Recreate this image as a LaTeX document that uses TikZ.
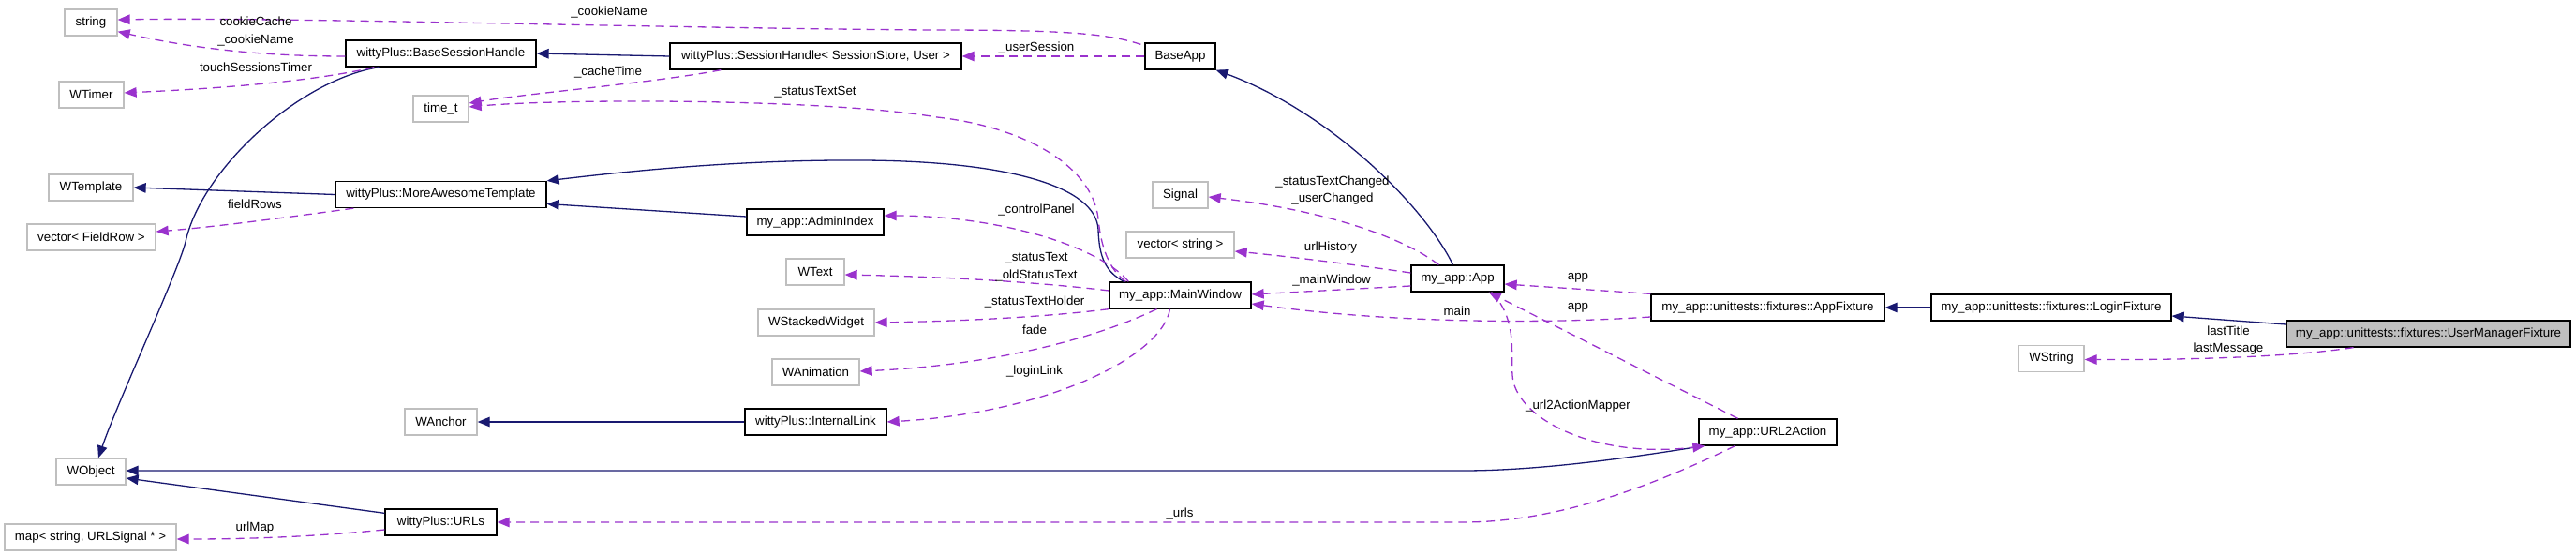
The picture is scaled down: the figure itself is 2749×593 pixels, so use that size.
\documentclass[tikz,border=0pt]{standalone}
\usepackage{fontspec}
\setmainfont{Liberation Sans}
\usetikzlibrary{arrows.meta,calc}
\definecolor{inhc}{HTML}{191970}
\definecolor{usec}{HTML}{9A32CD}
\definecolor{gbord}{HTML}{BFBFBF}
\definecolor{umffill}{HTML}{BFBFBF}
\begin{document}
\begin{tikzpicture}[x=1pt,y=-1pt,
  font=\fontsize{13.3}{18.5}\selectfont,
  cls/.style={draw=black,line width=1.3pt,minimum height=28pt,inner sep=0pt},
  ext/.style={draw=gbord,line width=1.3pt,minimum height=28pt,inner sep=0pt},
  inh/.style={draw=inhc,line width=1.3pt,-{Triangle[length=13pt,width=10.5pt]}},
  use/.style={draw=usec,line width=1.3pt,dash pattern=on 9pt off 6pt,-{Triangle[length=13pt,width=10.5pt]}},
  lbl/.style={inner sep=0pt,text=black}]
\useasboundingbox (0,0) rectangle (2749,593);
% nodes
\node[ext, minimum width=56pt] (string) at (97,24) {string};
\node[ext, minimum width=69pt] (wtimer) at (97.5,101) {WTimer};
\node[ext, minimum width=90pt] (wtemplate) at (97,200) {WTemplate};
\node[ext, minimum width=137pt] (vecfr) at (97.5,253) {vector< FieldRow >};
\node[ext, minimum width=74pt] (wobject) at (97,503) {WObject};
\node[ext, minimum width=183pt] (map) at (96.5,573) {map< string, URLSignal * >};
\node[cls, minimum width=203pt] (bsh) at (470.5,57) {wittyPlus::BaseSessionHandle};
\node[ext, minimum width=59pt] (timet) at (470.5,116) {time\_t};
\node[cls, minimum width=225pt] (mat) at (470.5,207.5) {wittyPlus::MoreAwesomeTemplate};
\node[ext, minimum width=77pt] (wanchor) at (470.5,450) {WAnchor};
\node[cls, minimum width=119pt] (urls) at (470.5,557) {wittyPlus::URLs};
\node[cls, minimum width=311pt] (sh) at (870.5,60) {wittyPlus::SessionHandle< SessionStore, User >};
\node[cls, minimum width=146pt] (admin) at (870,237) {my\_app::AdminIndex};
\node[ext, minimum width=62pt] (wtext) at (870,290) {WText};
\node[ext, minimum width=124pt] (wstack) at (871,344) {WStackedWidget};
\node[ext, minimum width=93pt] (wanim) at (870.5,397) {WAnimation};
\node[cls, minimum width=151pt] (ilink) at (870.5,450) {wittyPlus::InternalLink};
\node[cls, minimum width=75pt] (baseapp) at (1259.5,60) {BaseApp};
\node[ext, minimum width=59pt] (signal) at (1259.5,208) {Signal};
\node[ext, minimum width=115pt] (vecstr) at (1259.5,261) {vector< string >};
\node[cls, minimum width=151pt] (mainwin) at (1259.5,315) {my\_app::MainWindow};
\node[cls, minimum width=99pt] (app) at (1555.5,297) {my\_app::App};
\node[cls, minimum width=249pt] (appfix) at (1886.5,328) {my\_app::unittests::fixtures::AppFixture};
\node[cls, minimum width=147pt] (u2a) at (1886.5,461) {my\_app::URL2Action};
\node[cls, minimum width=256pt] (loginfix) at (2189,328) {my\_app::unittests::fixtures::LoginFixture};
\node[ext, minimum width=70pt] (wstring) at (2189,382.5) {WString};
\node[cls, fill=umffill, minimum width=303pt] (umf) at (2591.5,356) {my\_app::unittests::fixtures::UserManagerFixture};
% inheritance edges
\draw[inh] (sh.west) -- (bsh.east);
\draw[inh] ($(bsh.south)+(-66,0)$) .. controls (320,85) and (215,180) .. (198,258) .. controls (190,290) and (125,430) .. ($(wobject.north)+(8,0)$);
\draw[inh] ($(mainwin.north)+(-60,0)$) .. controls (1180,290) and (1173,275) .. (1172,245) .. controls (1170,200) and (1080,172) .. (921,171) .. controls (780,170) and (650,185) .. (mat.north east);
\draw[inh] ($(admin.west)+(0,-6)$) -- ($(mat.east)+(0,10)$);
\draw[inh] (mat.west) -- (wtemplate.east);
\draw[inh] (ilink.west) -- (wanchor.east);
\draw[inh] ($(u2a.south west)+(5,0)$) .. controls (1700,495) and (1620,502) .. (1561,502) -- ($(wobject.east)+(0,-1)$);
\draw[inh] ($(urls.north west)+(0,5)$) -- ($(wobject.east)+(0,7)$);
\draw[inh] ($(app.north)+(-5,0)$) .. controls (1520,220) and (1420,120) .. (baseapp.south east);
\draw[inh] (loginfix.west) -- (appfix.east);
\draw[inh] ($(umf.west)+(0,-10)$) -- ($(loginfix.east)+(0,9)$);
% usage edges
\draw[use] ($(baseapp.north west)+(-4,2)$) .. controls (1180,35) and (1130,32) .. (992,32) .. controls (700,30) and (300,18) .. ($(string.east)+(0,-3)$);
\draw[use] ($(bsh.west)+(0,3)$) .. controls (300,60) and (220,55) .. ($(string.south east)+(0,-5)$);
\draw[use] ($(bsh.south west)+(31,0)$) .. controls (330,88) and (220,95) .. ($(wtimer.east)+(0,-2)$);
\draw[use] ($(sh.south west)+(55,0)$) .. controls (700,88) and (560,100) .. ($(timet.east)+(0,-6)$);
\draw[use] ($(mainwin.north west)+(18,0)$) .. controls (1180,285) and (1174,255) .. (1172,233) .. controls (1165,175) and (1090,135) .. (1000,125) .. controls (880,105) and (600,105) .. ($(timet.east)+(0,-2)$);
\draw[use] (baseapp.west) -- (sh.east);
\draw[use] ($(mainwin.north west)+(21,0)$) .. controls (1170,260) and (1060,230) .. ($(admin.east)+(0,-7)$);
\draw[use] ($(mainwin.west)+(0,-5)$) .. controls (1100,300) and (1000,295) .. ($(wtext.east)+(0,3)$);
\draw[use] (mainwin.south west) .. controls (1100,340) and (1000,343) .. (wstack.east);
\draw[use] ($(mainwin.south)+(-25,0)$) .. controls (1160,365) and (1050,390) .. ($(wanim.east)+(0,-1)$);
\draw[use] ($(mainwin.south)+(-11,0)$) .. controls (1240,380) and (1120,440) .. (ilink.east);
\draw[use] ($(app.north west)+(30,0)$) .. controls (1500,255) and (1420,225) .. ($(signal.east)+(0,2)$);
\draw[use] ($(app.west)+(0,-6)$) .. controls (1430,280) and (1360,272) .. ($(vecstr.east)+(0,7)$);
\draw[use] ($(app.west)+(0,8)$) -- ($(mainwin.east)+(0,-1)$);
\draw[use] (appfix.north west) -- ($(app.east)+(0,6)$);
\draw[use] ($(appfix.west)+(0,10)$) .. controls (1640,346) and (1480,344) .. ($(mainwin.east)+(0,9)$);
\draw[use] ($(u2a.north)+(-32,0)$) -- ($(app.south east)+(-17,0)$);
\draw[use] ($(app.south)+(36,0)$) .. controls (1620,340) and (1612,380) .. (1614,400) .. controls (1616,445) and (1700,490) .. ($(u2a.south west)+(7,0)$);
\draw[use] ($(u2a.south)+(-35,0)$) .. controls (1760,520) and (1660,557) .. (1561,557) -- (urls.east);
\draw[use] ($(urls.west)+(0,8)$) .. controls (330,573) and (260,575) .. ($(map.east)+(0,2)$);
\draw[use] ($(mat.south west)+(20,0)$) .. controls (320,230) and (230,242) .. ($(vecfr.east)+(0,-6)$);
\draw[use] ($(umf.south)+(-80,0)$) .. controls (2450,380) and (2350,384) .. ($(wstring.east)+(0,1)$);
% labels
\node[lbl] (lcookiename) at (650,13) {\_cookieName};
\node[lbl, align=center] (lcookiecache) at (273,33.5) {cookieCache\\\_cookieName};
\node[lbl] (ltouch) at (273,72) {touchSessionsTimer};
\node[lbl] (lcachetime) at (649,77) {\_cacheTime};
\node[lbl] (lsts) at (870,98) {\_statusTextSet};
\node[lbl] (lusersession) at (1106,51) {\_userSession};
\node[lbl] (lcp) at (1106,224) {\_controlPanel};
\node[lbl, align=center] (lst) at (1106,284.5) {\_statusText\\\_oldStatusText};
\node[lbl] (lsth) at (1104,322) {\_statusTextHolder};
\node[lbl] (lfade) at (1104,352) {fade};
\node[lbl] (llogin) at (1104,396) {\_loginLink};
\node[lbl, align=center] (lstc) at (1422,203) {\_statusTextChanged\\\_userChanged};
\node[lbl] (lurlh) at (1420,264) {urlHistory};
\node[lbl] (lmw) at (1421,299) {\_mainWindow};
\node[lbl] (lappa) at (1684,296) {app};
\node[lbl] (lmain) at (1555,332) {main};
\node[lbl] (lappb) at (1684,328) {app};
\node[lbl] (lu2am) at (1684,433) {\_url2ActionMapper};
\node[lbl] (lurls) at (1259,548) {\_urls};
\node[lbl] (lurlmap) at (272,563) {urlMap};
\node[lbl] (lfieldrows) at (272,218) {fieldRows};
\node[lbl, align=center] (llast) at (2378,363) {lastTitle\\lastMessage};
\end{tikzpicture}
\end{document}
